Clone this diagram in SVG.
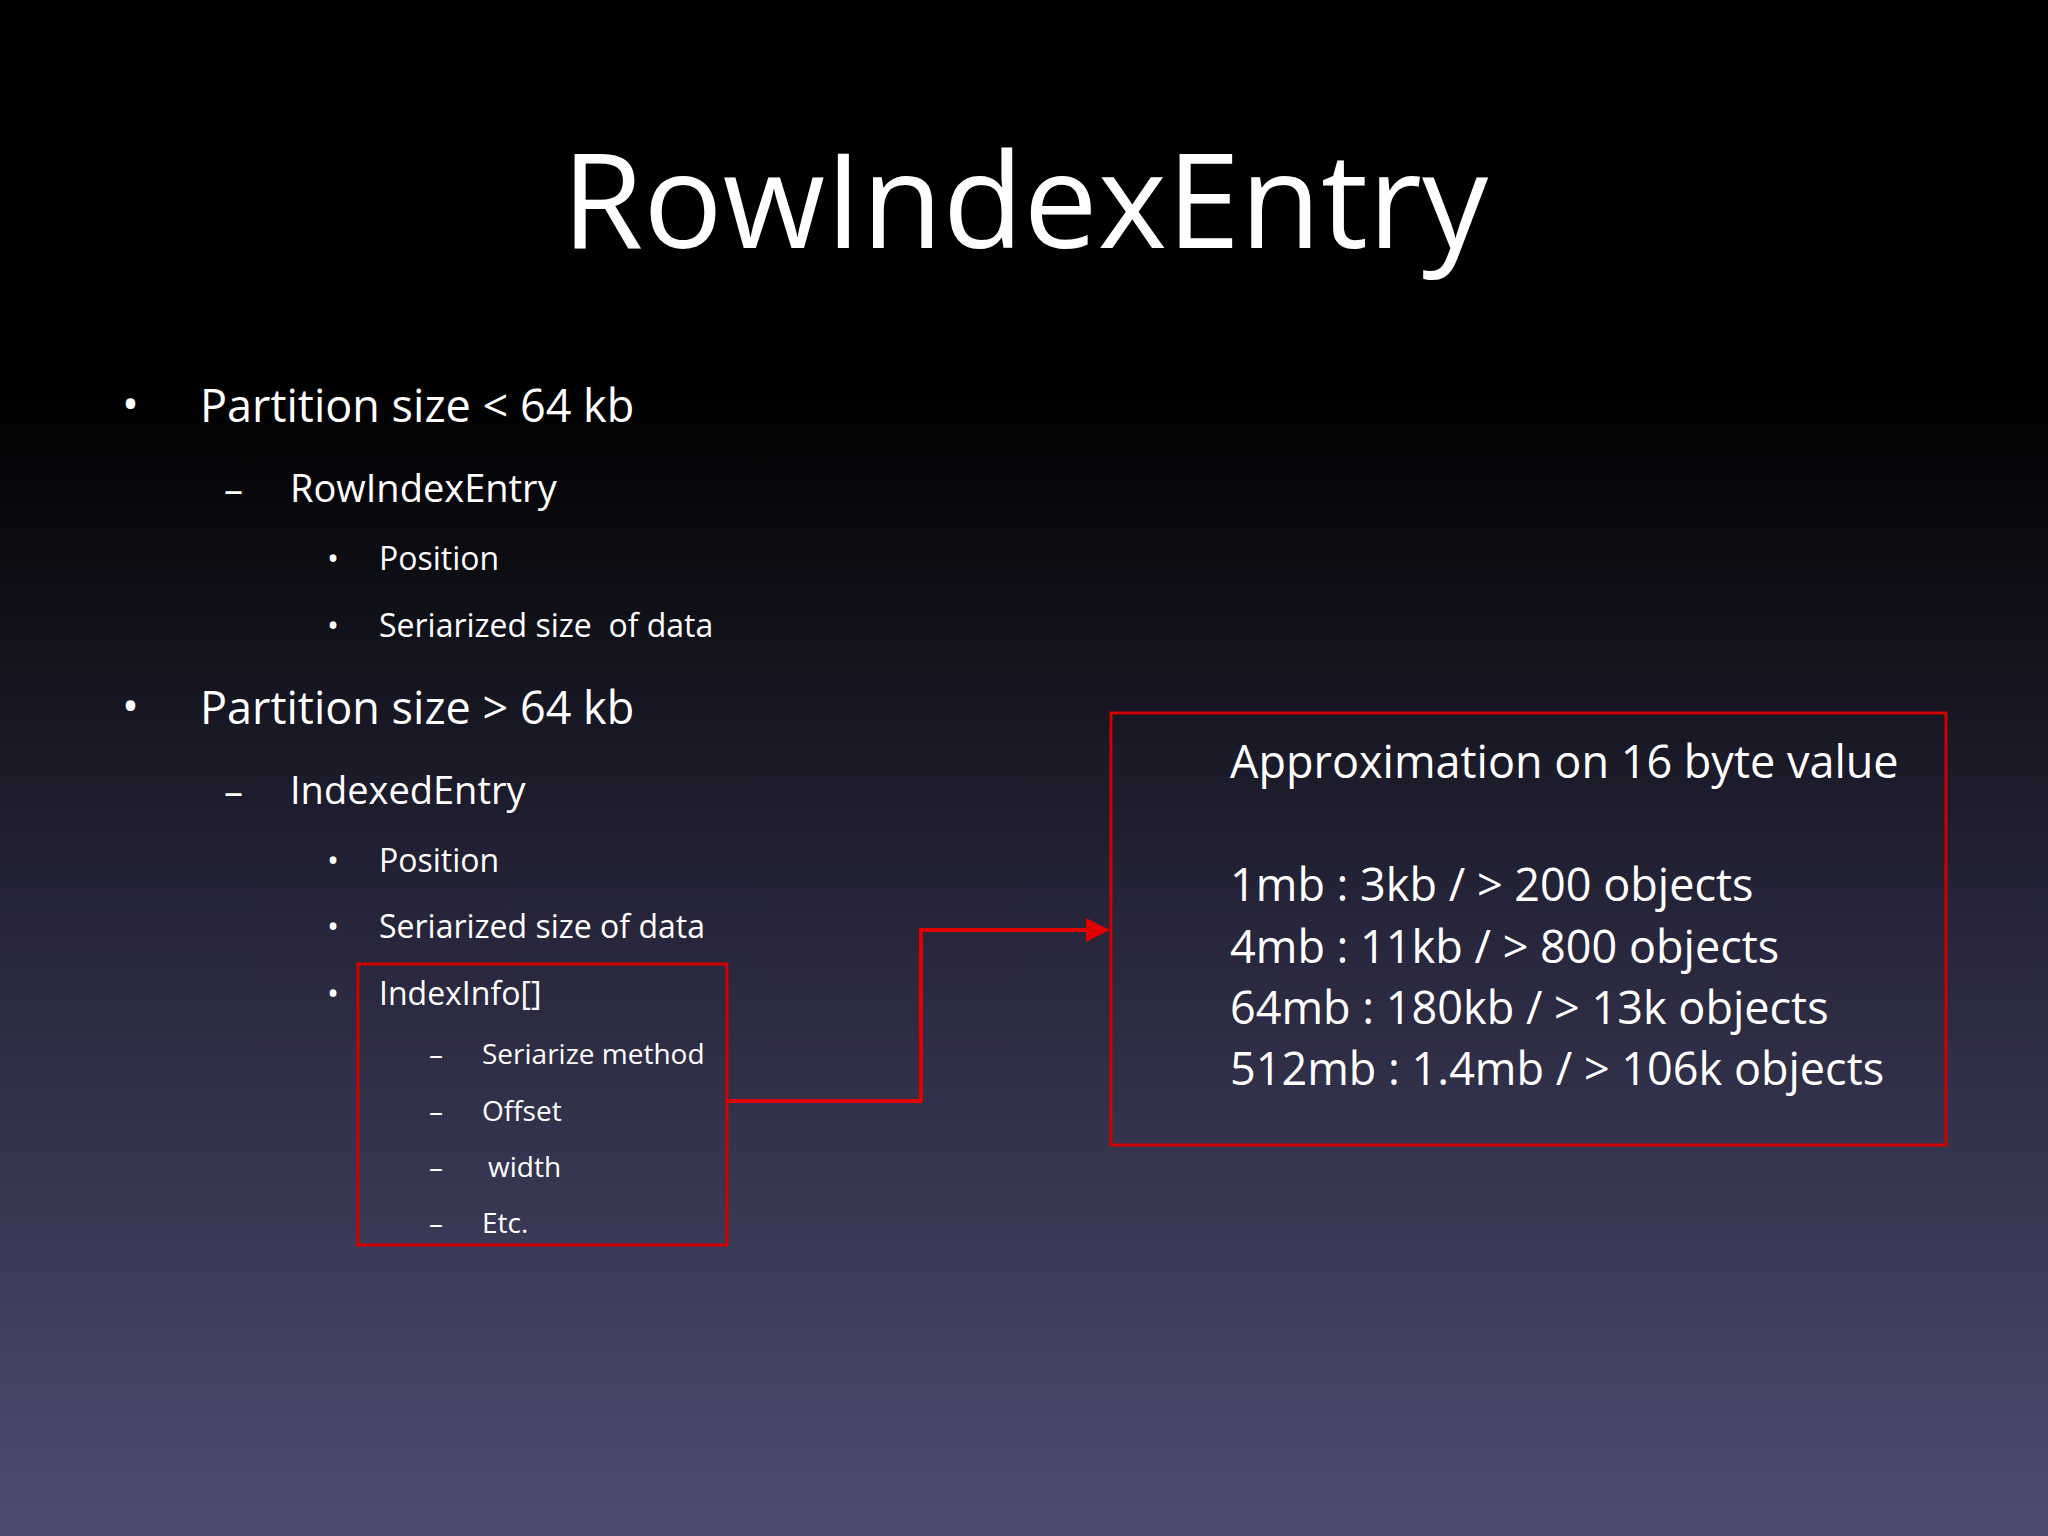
<svg xmlns="http://www.w3.org/2000/svg" width="2048" height="1536" viewBox="0 0 2048 1536">
<defs>
<linearGradient id="bg" x1="0" y1="0" x2="0" y2="1">
<stop offset="0" stop-color="#000"/>
<stop offset="0.25" stop-color="#000"/>
<stop offset="0.6" stop-color="#26253a"/>
<stop offset="1" stop-color="#4d4d70"/>
</linearGradient>
<marker id="ah" markerWidth="6" markerHeight="6" refX="5" refY="3" orient="auto" markerUnits="strokeWidth">
<path d="M0,0 L6,3 L0,6 Z" fill="#e00000"/>
</marker>
<style>
text{font-family:"Open Sans","Noto Sans",sans-serif;fill:#fff}
.l1{font-size:45px}.l2{font-size:38px}.l3{font-size:32px}.l4{font-size:28px}.bx{font-size:45px}
.box{fill:none;stroke:#d00000;stroke-width:3}
</style>
</defs>
<rect width="2048" height="1536" fill="url(#bg)"/>
<text x="1025" y="248" font-size="132" text-anchor="middle">RowIndexEntry</text>
<g id="list">
<text class="l1" x="122" y="420">•</text><text class="l1" x="200" y="422">Partition size &lt; 64 kb</text>
<text class="l2" x="224" y="503">–</text><text class="l2" x="290" y="502">RowIndexEntry</text>
<text class="l3" x="327" y="570">•</text><text class="l3" x="379" y="570">Position</text>
<text class="l3" x="327" y="637">•</text><text class="l3" x="379" y="637" xml:space="preserve">Seriarized size  of data</text>
<text class="l1" x="122" y="722">•</text><text class="l1" x="200" y="724">Partition size &gt; 64 kb</text>
<text class="l2" x="224" y="805">–</text><text class="l2" x="290" y="804">IndexedEntry</text>
<text class="l3" x="327" y="872">•</text><text class="l3" x="379" y="872">Position</text>
<text class="l3" x="327" y="938">•</text><text class="l3" x="379" y="938">Seriarized size of data</text>
</g>
<g id="indexinfo">
<rect class="box" x="358" y="964" width="369" height="281"/>
<text class="l3" x="327" y="1005">•</text><text class="l3" x="379" y="1005">IndexInfo[]</text>
<text class="l4" x="429" y="1064">–</text><text class="l4" x="482" y="1064">Seriarize method</text>
<text class="l4" x="429" y="1121">–</text><text class="l4" x="482" y="1121">Offset</text>
<text class="l4" x="429" y="1177">–</text><text class="l4" x="488" y="1177">width</text>
<text class="l4" x="429" y="1233">–</text><text class="l4" x="482" y="1233">Etc.</text>
</g>
<g id="approx">
<rect class="box" x="1111" y="713" width="835" height="432"/>
<text class="bx" x="1230" y="778">Approximation on 16 byte value</text>
<text class="bx" x="1230" y="901">1mb : 3kb / &gt; 200 objects</text>
<text class="bx" x="1230" y="963">4mb : 11kb / &gt; 800 objects</text>
<text class="bx" x="1230" y="1024">64mb : 180kb / &gt; 13k objects</text>
<text class="bx" x="1230" y="1085">512mb : 1.4mb / &gt; 106k objects</text>
</g>
<g id="connectors">
<path d="M727,1101 H921 V930 H1106" fill="none" stroke="#e00000" stroke-width="4" marker-end="url(#ah)"/>
</g>
</svg>
